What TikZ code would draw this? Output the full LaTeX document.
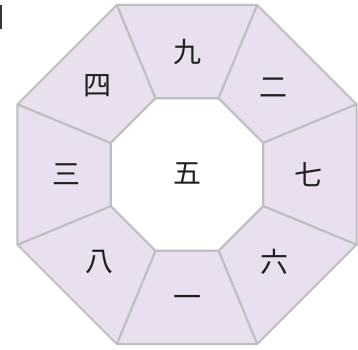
\documentclass[tikz,border=0pt]{standalone}
\usepackage{fontspec}
\newfontfamily\cjk{Noto Sans CJK JP}
\definecolor{segfill}{RGB}{233,223,238}
\definecolor{segline}{RGB}{190,190,193}

\begin{document}
\begin{tikzpicture}[x=1pt, y=1pt,
  seg/.style={fill=segfill, draw=segline, line width=2pt, line join=round},
  num/.style={font=\cjk\fontsize{28}{28}\selectfont, text=black!88}]
  % Nine-palace octagon, centre at origin

  \useasboundingbox (-187,-174.5) rectangle (171,174.5);

  % Outer ring of eight segments
  \foreach \a/\lab/\nm/\r in {90/九/nine/122, 45/二/two/123, 0/七/seven/121, -45/六/six/124,
                              -90/一/one/127, -135/八/eight/124, 180/三/three/120, 135/四/four/126} {
    \draw[seg] (\a-22.5:82.5) -- (\a-22.5:183.5) -- (\a+22.5:183.5) -- (\a+22.5:82.5) -- cycle;
    \node[num] (\nm) at (\a:\r) {\lab};
  }

  % Inner octagon
  \draw[seg, fill=white] (22.5:82.5) \foreach \a in {67.5,112.5,...,337.5} { -- (\a:82.5) } -- cycle;
  \node[num] (five) at (0,1) {五};

  % Mark at top left
  \draw[black!80, line width=1.5pt] (-186,169.5) -- (-186,145.5);
\end{tikzpicture}
\end{document}
